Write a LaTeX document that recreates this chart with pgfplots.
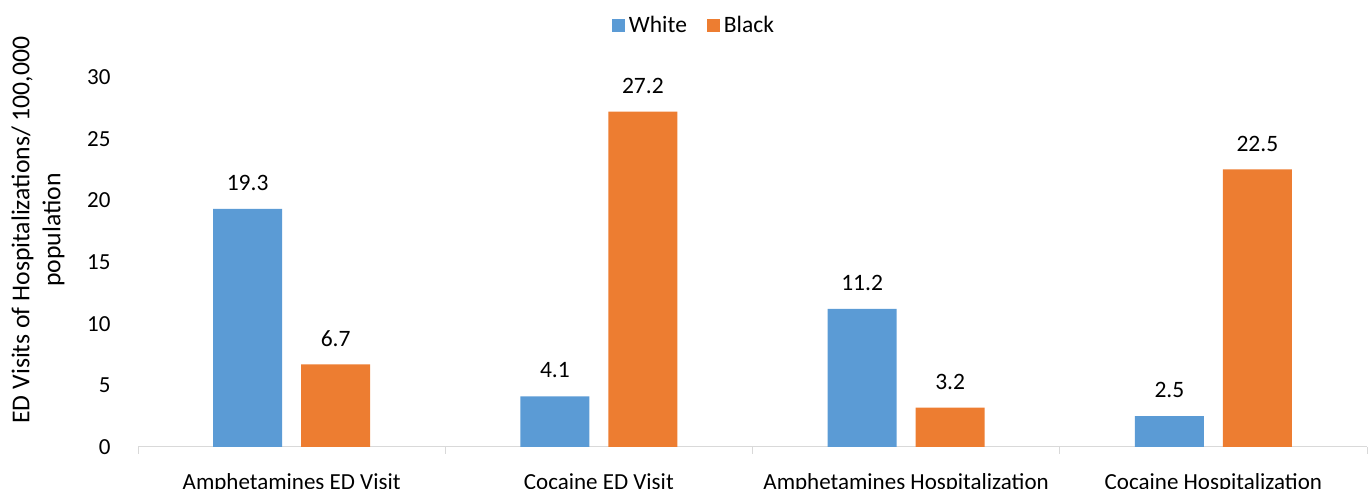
\documentclass[border=0pt]{standalone}
\usepackage{pgfplots}
\pgfplotsset{compat=1.18}
\usepackage{fontspec}
\setmainfont{Carlito}
\definecolor{cwhite}{HTML}{5B9BD5}
\definecolor{cblack}{HTML}{ED7D31}
\definecolor{axisgray}{HTML}{D9D9D9}
\begin{document}
\begin{tikzpicture}[x=1bp,y=1bp]
\useasboundingbox (0,0) rectangle (1370,489);
\begin{axis}[
  at={(138bp,42bp)}, anchor=south west,
  scale only axis, width=1229bp, height=370bp,
  xmin=-0.5, xmax=3.5, ymin=0, ymax=30,
  ybar=19bp, bar width=69bp,
  axis x line*=bottom, axis y line*=left,
  x axis line style={draw=axisgray, line width=1bp, -},
  y axis line style={draw=none},
  xtick={0,1,2,3},
  xticklabels={Amphetamines ED Visit, Cocaine ED Visit, Amphetamines Hospitalization, Cocaine Hospitalization},
  minor xtick={-0.5,0.5,1.5,2.5,3.5},
  major x tick style={draw=none},
  minor x tick style={draw=axisgray, line width=1bp},
  minor tick length=7bp, tick align=outside,
  ytick={0,5,...,30},
  major y tick style={draw=none},
  font=\fontsize{23bp}{27bp}\selectfont,
  xticklabel style={anchor=base, yshift=-38bp, inner sep=0pt},
  yticklabel style={anchor=east, inner sep=0pt, xshift=-23bp},
  /pgf/number format/assume math mode=true,
  nodes near coords,
  nodes near coords style={anchor=center, yshift=26bp, font=\fontsize{23.5bp}{27bp}\selectfont, /pgf/number format/.cd, fixed, precision=1, zerofill},
  legend style={at={(0.4532,1.1405)}, anchor=center, draw=none, fill=none,
    legend columns=2, font=\fontsize{23.5bp}{27bp}\selectfont,
    nodes={inner xsep=4bp},
    /tikz/every even column/.append style={column sep=16bp}},
  legend image code/.code={\fill[#1] (0bp,-6.5bp) rectangle (13bp,6.5bp);},
  clip=false,
]
\addplot[fill=cwhite, draw=none] coordinates {(0,19.3) (1,4.1) (2,11.2) (3,2.5)};
\addplot[fill=cblack, draw=none] coordinates {(0,6.7) (1,27.2) (2,3.2) (3,22.5)};
\legend{White, Black}
\end{axis}
\node[rotate=90, align=center, font=\fontsize{25.7bp}{31bp}\selectfont] at (38,259)
  {ED Visits of Hospitalizations/ 100,000\\population};
\end{tikzpicture}
\end{document}
